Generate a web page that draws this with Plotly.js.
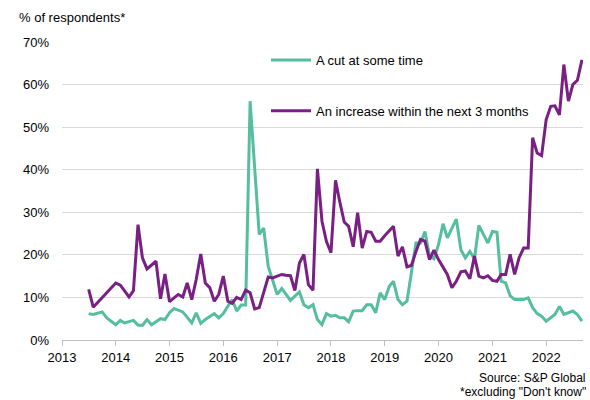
<!DOCTYPE html>
<html>
<head>
<meta charset="utf-8">
<script src="https://cdn.plot.ly/plotly-3.0.1.min.js"></script>
<style>html,body{margin:0;padding:0;background:#fff}#chart{width:590px;height:400px}</style>
</head>
<body>
<div id="chart"></div>
<script>
// ---- data ----
var cutDates = ['2013-07','2013-08','2013-10','2013-11','2014-01','2014-02','2014-03','2014-05','2014-06','2014-07','2014-08','2014-09','2014-11','2014-12',
  '2015-01','2015-02','2015-03','2015-04','2015-06','2015-07','2015-08','2015-09','2015-11','2015-12',
  '2016-01','2016-03','2016-04','2016-05','2016-06','2016-07','2016-09','2016-10','2016-11',
  '2017-01','2017-02','2017-04','2017-05','2017-06','2017-07','2017-08','2017-09','2017-10','2017-11','2017-12',
  '2018-01','2018-02','2018-03','2018-04','2018-05','2018-06','2018-07','2018-08','2018-09','2018-10','2018-11','2018-12',
  '2019-01','2019-02','2019-03','2019-04','2019-05','2019-06','2019-08','2019-09','2019-10','2019-11','2019-12',
  '2020-01','2020-02','2020-03','2020-05','2020-06','2020-07','2020-08','2020-09','2020-10','2020-11','2020-12',
  '2021-01','2021-02','2021-03','2021-04','2021-05','2021-06','2021-08','2021-09','2021-10','2021-11','2021-12',
  '2022-01','2022-03','2022-04','2022-05','2022-06','2022-07','2022-08','2022-09'];
var cutValues = [6.2,6.0,6.6,5.2,3.6,4.6,4.0,4.6,3.5,3.4,4.8,3.6,5.0,4.8,
  6.4,7.4,7.0,6.6,4.0,6.4,3.9,4.8,6.2,5.2,
  6.2,9.5,6.8,8.2,8.2,56.1,24.8,26.3,17.3,
  10.7,12.1,9.3,10.3,11.3,8.3,7.6,8.3,4.8,3.6,6.2,
  5.6,5.8,5.2,5.2,4.3,6.8,6.9,6.9,8.3,8.3,6.4,11.1,
  9.5,12.6,13.8,9.5,8.3,9.1,22.8,22.8,25.5,19.7,19.1,
  22.4,27.3,24.0,28.4,21.2,19.3,20.8,19.1,26.9,24.8,22.8,
  25.5,25.3,13.8,13.4,10.4,9.5,9.5,9.9,7.6,6.2,5.6,
  4.4,6.0,7.9,6.0,6.5,6.8,6.0,4.4];

var riseDates = ['2013-07','2013-08','2014-01','2014-02','2014-04','2014-05','2014-06','2014-07','2014-08','2014-10','2014-11','2014-12',
  '2015-01','2015-03','2015-04','2015-05','2015-06','2015-07','2015-08','2015-09','2015-10','2015-11','2015-12',
  '2016-01','2016-02','2016-03','2016-04','2016-05','2016-06','2016-07','2016-08','2016-09','2016-11','2016-12',
  '2017-01','2017-02','2017-03','2017-04','2017-05','2017-06','2017-07','2017-08','2017-09','2017-10','2017-11','2017-12',
  '2018-01','2018-02','2018-03','2018-04','2018-05','2018-06','2018-07','2018-08','2018-09','2018-10','2018-11','2018-12',
  '2019-01','2019-03','2019-04','2019-05','2019-06','2019-07','2019-08','2019-09','2019-10','2019-11','2019-12',
  '2020-01','2020-03','2020-04','2020-05','2020-06','2020-07','2020-08','2020-09','2020-10','2020-11','2020-12',
  '2021-01','2021-02','2021-03','2021-04','2021-05','2021-06','2021-07','2021-08','2021-09','2021-10','2021-11','2021-12',
  '2022-01','2022-02','2022-03','2022-04','2022-05','2022-06','2022-07','2022-08','2022-09'];
var riseValues = [11.9,7.7,13.4,12.9,10.1,11.6,27.1,19.3,16.7,18.5,9.7,15.5,
  9.0,10.7,10.1,13.4,9.5,14.2,20.2,13.4,12.3,9.1,10.7,
  15.0,9.1,8.6,10.0,9.5,11.7,11.1,7.3,7.6,14.8,14.6,
  15.0,15.4,15.2,15.1,11.6,18.1,20.1,13.0,11.7,40.2,27.9,23.2,
  20.5,37.5,32.6,27.7,26.7,21.9,29.9,21.6,25.5,25.3,23.2,23.2,
  24.5,26.7,19.7,21.9,17.2,17.5,20.8,23.6,23.2,18.9,21.1,
  18.9,15.4,12.3,13.8,16.0,16.2,14.4,19.7,15.0,14.6,15.1,
  14.0,13.8,15.4,15.4,20.1,15.4,19.3,21.6,21.6,47.5,43.9,43.3,
  51.8,54.9,55.0,52.9,64.7,56.1,60.0,61.0,65.8];

var seriesNames = ['A cut at some time', 'An increase within the next 3 months'];
var yearTicks = ['2013','2014','2015','2016','2017','2018','2019','2020','2021','2022'];

var FONT = 'Liberation Sans, Arial, sans-serif';
var traces = [
  {x: cutDates, y: cutValues, type: 'scatter', mode: 'lines', name: seriesNames[0], legendgroup: 'a',
   line: {color: '#55BE9E', width: 3}},
  {x: riseDates, y: riseValues, type: 'scatter', mode: 'lines', name: seriesNames[1], legendgroup: 'b',
   line: {color: '#7A1F83', width: 3}}
];

var layout = {
  width: 590, height: 400,
  margin: {l: 62, r: 7, t: 42, b: 60},
  paper_bgcolor: '#fff', plot_bgcolor: '#fff',
  font: {family: FONT, size: 13, color: '#000'},
  title: {text: '% of respondents*', x: 19/590, xref: 'container', xanchor: 'left',
          y: 1 - 17/400, yref: 'container', yanchor: 'middle', font: {family: FONT, size: 13, color: '#000'}},
  showlegend: true,
  legend: {x: (266-62)/521, xanchor: 'left', y: 0.99, yanchor: 'top', bgcolor: 'rgba(0,0,0,0)',
           itemwidth: 40,
           font: {family: FONT, size: 13, color: '#000'}, tracegroupgap: 31},
  xaxis: {type: 'date', range: ['2013-01-01', '2022-09-08'],
          tickvals: yearTicks.map(function(y){return y + '-01-01';}), ticktext: yearTicks,
          ticks: 'outside', ticklen: 5, tickcolor: '#bfbfbf', showline: true, linecolor: '#bfbfbf', linewidth: 1,
          showgrid: false, zeroline: false, tickfont: {family: FONT, size: 13, color: '#000'}},
  yaxis: {range: [0, 70], dtick: 10, ticksuffix: '%', showgrid: true, gridcolor: '#d9d9d9', gridwidth: 1,
          zeroline: false, showline: false, ticks: '', ticklabelstandoff: 12,
          tickfont: {family: FONT, size: 13, color: '#000'}},
  annotations: [
    {text: 'Source: S&P Global', xref: 'paper', yref: 'paper', x: (588-62)/521, y: (340-378)/298,
     xanchor: 'right', yanchor: 'middle', showarrow: false, font: {family: FONT, size: 12, color: '#000'}},
    {text: '*excluding "Don\'t know"', xref: 'paper', yref: 'paper', x: (588-62)/521, y: (340-392)/298,
     xanchor: 'right', yanchor: 'middle', showarrow: false, font: {family: FONT, size: 12, color: '#000'}}
  ]
};

Plotly.newPlot('chart', traces, layout, {displayModeBar: false, staticPlot: true});
</script>
</body>
</html>
